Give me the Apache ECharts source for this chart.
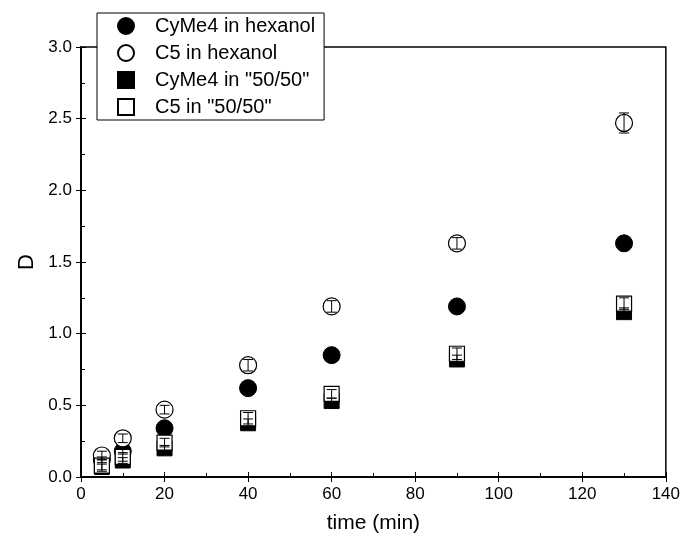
<!DOCTYPE html>
<html>
<head>
<meta charset="utf-8">
<script src="https://cdn.jsdelivr.net/npm/echarts@6/dist/echarts.min.js"></script>
<style>html,body{margin:0;padding:0;background:#fff}#c{width:683px;height:547px}</style>
</head>
<body>
<div id="c"></div>
<script>
const times = [5, 10, 20, 40, 60, 90, 130];
const cyme4Hex = [0.12, 0.18, 0.34, 0.62, 0.85, 1.19, 1.63];
const c5Hex = [0.15, 0.27, 0.47, 0.78, 1.19, 1.63, 2.47];
const cyme4Mix = [0.07, 0.115, 0.20, 0.375, 0.53, 0.82, 1.15];
const c5Mix = [0.08, 0.14, 0.24, 0.41, 0.58, 0.86, 1.21];
const cyme4HexErr = [0.02, 0.02, 0.02, 0.02, 0.02, 0.03, 0.03];
const c5HexErr = [0.03, 0.03, 0.03, 0.04, 0.04, 0.04, 0.07];
const cyme4MixErr = [0.02, 0.02, 0.02, 0.03, 0.02, 0.03, 0.03];
const c5MixErr = [0.04, 0.03, 0.03, 0.04, 0.03, 0.04, 0.04];
const xTicks = [0, 20, 40, 60, 80, 100, 120, 140];
const yTicks = [0, 0.5, 1.0, 1.5, 2.0, 2.5, 3.0];

const font = 'Liberation Sans, Arial, sans-serif';
const pts = v => times.map((t, i) => [t, v[i]]);
const errData = (v, e) => times.map((t, i) => [t, v[i] - e[i], v[i] + e[i]]);

function errSeries(v, e) {
  return {
    type: 'custom', z: 10, silent: true,
    data: errData(v, e),
    renderItem: function (params, api) {
      const x = api.value(0);
      const lo = api.coord([x, api.value(1)]);
      const hi = api.coord([x, api.value(2)]);
      const w = 5;
      const st = { stroke: '#000', lineWidth: 1 };
      return {
        type: 'group', children: [
          { type: 'line', shape: { x1: lo[0], y1: lo[1], x2: hi[0], y2: hi[1] }, style: st },
          { type: 'line', shape: { x1: lo[0] - w, y1: lo[1], x2: lo[0] + w, y2: lo[1] }, style: st },
          { type: 'line', shape: { x1: hi[0] - w, y1: hi[1], x2: hi[0] + w, y2: hi[1] }, style: st }
        ]
      };
    }
  };
}

const axisBase = {
  min: 0, axisLine: { show: true, lineStyle: { color: '#000', width: 1.5 } },
  splitLine: { show: false }
};

const chart = echarts.init(document.getElementById('c'));
chart.setOption({
  animation: false,
  backgroundColor: '#fff',
  grid: { left: 81, right: 17, top: 47, bottom: 70, show: true, borderColor: '#000', borderWidth: 1.5, backgroundColor: 'transparent' },
  legend: {
    orient: 'vertical', left: 97, top: 13,
    padding: [3, 9, 3, 20], itemGap: 7, itemWidth: 16, itemHeight: 16,
    backgroundColor: '#fff', borderColor: '#000', borderWidth: 1,
    textStyle: { fontFamily: font, fontSize: 20, lineHeight: 20, color: '#000', padding: [0, 0, 0, 16] },
    data: ['CyMe4 in hexanol', 'C5 in hexanol', 'CyMe4 in "50/50"', 'C5 in "50/50"'],
    z: 20
  },
  xAxis: [
    Object.assign({}, axisBase, {
      type: 'value', max: 140, interval: 20, position: 'bottom',
      name: 'time (min)', nameLocation: 'middle', nameGap: 36,
      nameTextStyle: { fontFamily: font, fontSize: 21, color: '#000' },
      axisTick: { show: true, inside: false, length: 5, lineStyle: { color: '#000', width: 1 } },
      axisLabel: { fontFamily: font, fontSize: 17, color: '#000', margin: 9 }
    }),
    Object.assign({}, axisBase, {
      type: 'value', max: 140, interval: 20, position: 'bottom',
      axisTick: { show: true, inside: true, length: 5, lineStyle: { color: '#000', width: 1 } },
      minorTick: { show: true, splitNumber: 2, length: 4, lineStyle: { color: '#000', width: 1 } },
      axisLabel: { show: false }
    })
  ],
  yAxis: [
    Object.assign({}, axisBase, {
      type: 'value', max: 3, interval: 0.5, position: 'left',
      name: 'D', nameLocation: 'middle', nameGap: 36,
      nameTextStyle: { fontFamily: font, fontSize: 22, color: '#000' },
      axisTick: { show: true, inside: false, length: 5, lineStyle: { color: '#000', width: 1 } },
      axisLabel: { fontFamily: font, fontSize: 17, color: '#000', margin: 9, formatter: v => v.toFixed(1) }
    }),
    Object.assign({}, axisBase, {
      type: 'value', max: 3, interval: 0.5, position: 'left',
      axisTick: { show: true, inside: true, length: 5, lineStyle: { color: '#000', width: 1 } },
      minorTick: { show: true, splitNumber: 2, length: 4, lineStyle: { color: '#000', width: 1 } },
      axisLabel: { show: false }
    })
  ],
  series: [
    { name: 'CyMe4 in hexanol', type: 'scatter', symbol: 'circle', symbolSize: 17, z: 2,
      itemStyle: { color: '#000', borderColor: '#000', borderWidth: 1, opacity: 1 }, data: pts(cyme4Hex) },
    { name: 'C5 in hexanol', type: 'scatter', symbol: 'circle', symbolSize: 17, z: 3,
      itemStyle: { color: '#fff', borderColor: '#000', borderWidth: 1.2, opacity: 1 }, data: pts(c5Hex) },
    { name: 'CyMe4 in "50/50"', type: 'scatter', symbol: 'rect', symbolSize: 15, z: 4,
      itemStyle: { color: '#000', borderColor: '#000', borderWidth: 1, opacity: 1 }, data: pts(cyme4Mix) },
    { name: 'C5 in "50/50"', type: 'scatter', symbol: 'rect', symbolSize: 15, z: 5,
      itemStyle: { color: '#fff', borderColor: '#000', borderWidth: 1.2, opacity: 1 }, data: pts(c5Mix) },
    errSeries(cyme4Hex, cyme4HexErr),
    errSeries(c5Hex, c5HexErr),
    errSeries(cyme4Mix, cyme4MixErr),
    errSeries(c5Mix, c5MixErr)
  ]
});
</script>
</body>
</html>
